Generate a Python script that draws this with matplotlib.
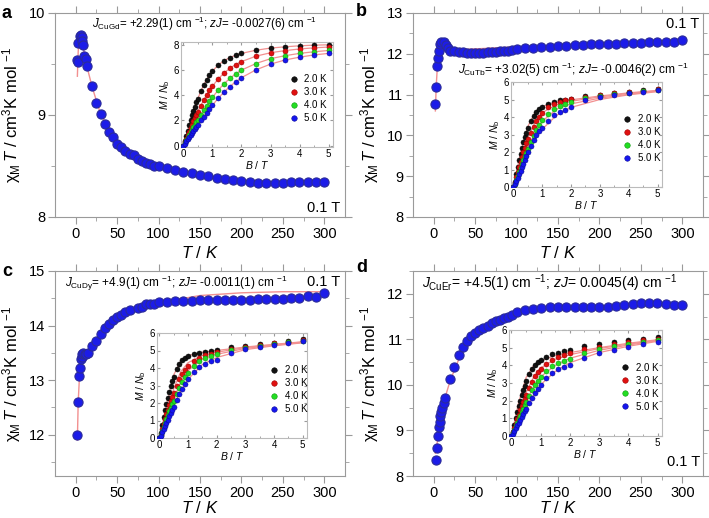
import matplotlib
matplotlib.use('Agg')
import matplotlib.pyplot as plt

plt.rcParams['font.family'] = ['Liberation Sans', 'DejaVu Sans']
plt.rcParams['mathtext.fontset'] = 'custom'
plt.rcParams['mathtext.rm'] = 'Liberation Sans'
plt.rcParams['mathtext.it'] = 'Liberation Sans:italic'
plt.rcParams['mathtext.bf'] = 'Liberation Sans:bold'

# ---------------- chi*T vs T data ----------------
T_a = [2, 2.5, 3, 5, 6, 7, 8, 9, 10, 12, 14, 20, 25, 30, 35, 40, 45, 50, 55, 60, 65, 70, 75, 80,
       85, 90, 95, 100, 110, 120, 130, 140, 150, 160, 170, 180, 190, 200, 210, 220, 230, 240,
       250, 260, 270, 280, 290, 300]
chiT_a = [9.54, 9.52, 9.71, 9.77, 9.78, 9.76, 9.73, 9.69, 9.58, 9.55, 9.48, 9.28, 9.12, 9.01,
          8.91, 8.83, 8.78, 8.72, 8.69, 8.65, 8.62, 8.61, 8.57, 8.55, 8.53, 8.52, 8.50, 8.50,
          8.48, 8.46, 8.44, 8.43, 8.41, 8.40, 8.38, 8.37, 8.36, 8.35, 8.34, 8.33, 8.33, 8.33,
          8.33, 8.34, 8.34, 8.34, 8.34, 8.34]
Tfit_a = [2, 3, 4, 6, 8, 10, 14, 20, 30, 50, 75, 100, 150, 200, 250, 300]
fit_a = [9.38, 9.62, 9.74, 9.78, 9.72, 9.62, 9.46, 9.27, 9.01, 8.72, 8.57, 8.49, 8.41, 8.36,
         8.34, 8.34]

T_b = [2, 3, 4, 5, 6, 7, 9, 12, 15, 17, 20, 25, 30, 35, 40, 45, 50, 55, 60, 65, 70, 75, 80,
       85, 90, 95, 100, 110, 120, 130, 140, 150, 160, 170, 180, 190, 200, 210, 220, 230, 240,
       250, 260, 270, 280, 290, 300]
chiT_b = [10.78, 11.19, 11.69, 11.90, 12.08, 12.25, 12.29, 12.29, 12.22, 12.14, 12.07, 12.06,
          12.05, 12.04, 12.03, 12.03, 12.02, 12.03, 12.03, 12.04, 12.04, 12.05, 12.06, 12.07,
          12.08, 12.09, 12.12, 12.14, 12.15, 12.16, 12.17, 12.19, 12.20, 12.21, 12.22, 12.23,
          12.24, 12.24, 12.25, 12.26, 12.26, 12.27, 12.28, 12.29, 12.30, 12.29, 12.33]
Tfit_b = [2, 3, 5, 8, 10, 15, 20, 30, 50, 100, 150, 200, 250, 300]
fit_b = [10.6, 11.2, 11.9, 12.15, 12.18, 12.15, 12.12, 12.10, 12.12, 12.17, 12.20, 12.23,
         12.25, 12.26]

T_c = [2, 3, 4, 5, 6, 7, 8, 9, 11, 13, 15, 20, 25, 30, 35, 40, 45, 50, 55, 60, 65, 75, 80, 85,
       90, 95, 100, 110, 120, 130, 140, 150, 160, 170, 180, 190, 200, 210, 220, 230, 240, 250,
       260, 270, 280, 290, 300]
chiT_c = [12.0, 12.59, 13.07, 13.22, 13.38, 13.43, 13.47, 13.50, 13.47, 13.47, 13.50, 13.62,
          13.71, 13.85, 13.95, 14.02, 14.10, 14.15, 14.20, 14.25, 14.28, 14.33, 14.34, 14.39,
          14.39, 14.39, 14.43, 14.44, 14.45, 14.45, 14.45, 14.46, 14.46, 14.46, 14.47, 14.47,
          14.47, 14.47, 14.48, 14.48, 14.49, 14.49, 14.51, 14.51, 14.54, 14.52, 14.60]
Tfit_c = [2, 3, 5, 8, 10, 15, 20, 30, 40, 50, 60, 75, 100, 150, 200, 250, 300]
fit_c = [11.9, 12.6, 13.2, 13.35, 13.42, 13.52, 13.62, 13.80, 13.95, 14.08, 14.18, 14.30,
         14.42, 14.55, 14.60, 14.62, 14.62]

T_d = [3, 4, 5, 6, 7, 8, 9, 10, 12, 14, 20, 25, 30, 35, 40, 45, 50, 55, 60, 65, 70, 75, 80, 85,
       90, 95, 100, 110, 120, 130, 140, 150, 160, 170, 180, 190, 200, 210, 220, 230, 240, 250,
       260, 270, 280, 290, 300]
chiT_d = [8.35, 8.62, 8.88, 9.07, 9.18, 9.32, 9.41, 9.50, 9.61, 9.72, 10.12, 10.40, 10.65,
          10.84, 10.96, 11.07, 11.14, 11.21, 11.25, 11.30, 11.36, 11.40, 11.43, 11.47, 11.50,
          11.54, 11.60, 11.64, 11.67, 11.69, 11.70, 11.71, 11.71, 11.71, 11.71, 11.71, 11.71,
          11.72, 11.74, 11.75, 11.78, 11.80, 11.80, 11.80, 11.78, 11.75, 11.76]
Tfit_d = [2, 4, 6, 10, 15, 20, 30, 40, 50, 60, 75, 100, 150, 200, 250, 300]
fit_d = [8.5, 8.7, 9.0, 9.45, 9.8, 10.1, 10.55, 10.85, 11.05, 11.2, 11.38, 11.58, 11.70, 11.73,
         11.76, 11.77]

# ---------------- M vs B data (inset) ----------------
B = [0, 0.05, 0.1, 0.15, 0.2, 0.25, 0.3, 0.35, 0.4, 0.45, 0.5, 0.6, 0.7, 0.8, 0.9, 1.0,
     1.2, 1.4, 1.6, 1.8, 2.0, 2.5, 3.0, 3.5, 4.0, 4.5, 5.0]
B_fit = [0, 0.25, 0.5, 0.75, 1.0, 1.5, 2.0, 3.0, 4.0, 5.0]
temps = ['2.0 K', '3.0 K', '4.0 K', '5.0 K']

M_gd = [
    [0, 0.4, 0.8, 1.2, 1.6, 2.0, 2.4, 2.75, 3.1, 3.42, 3.72, 4.3, 4.8, 5.22, 5.58, 5.9,
     6.38, 6.72, 6.97, 7.15, 7.3, 7.55, 7.72, 7.82, 7.9, 7.95, 7.98],
    [0, 0.28, 0.56, 0.84, 1.12, 1.4, 1.67, 1.94, 2.2, 2.45, 2.7, 3.17, 3.6, 4.0, 4.37, 4.7,
     5.28, 5.75, 6.12, 6.42, 6.65, 7.08, 7.35, 7.52, 7.65, 7.74, 7.8],
    [0, 0.21, 0.42, 0.63, 0.84, 1.05, 1.26, 1.46, 1.66, 1.86, 2.06, 2.45, 2.82, 3.17, 3.5, 3.82,
     4.4, 4.9, 5.32, 5.68, 5.98, 6.5, 6.88, 7.12, 7.3, 7.43, 7.53],
    [0, 0.17, 0.34, 0.51, 0.68, 0.85, 1.02, 1.18, 1.35, 1.51, 1.67, 2.0, 2.31, 2.62, 2.92, 3.2,
     3.75, 4.25, 4.68, 5.05, 5.38, 6.0, 6.45, 6.78, 7.0, 7.18, 7.3],
]
M_tb = [
    [0, 0.3, 0.75, 1.15, 1.55, 1.9, 2.25, 2.55, 2.85, 3.1, 3.35, 3.75, 4.05, 4.3, 4.45, 4.58,
     4.75, 4.85, 4.95, 5.0, 5.05, 5.18, 5.28, 5.37, 5.45, 5.52, 5.6],
    [0, 0.25, 0.55, 0.85, 1.15, 1.45, 1.72, 2.0, 2.25, 2.5, 2.72, 3.1, 3.45, 3.75, 4.02, 4.25,
     4.55, 4.75, 4.88, 4.95, 5.02, 5.15, 5.25, 5.35, 5.43, 5.5, 5.58],
    [0, 0.2, 0.42, 0.65, 0.88, 1.1, 1.32, 1.55, 1.75, 1.95, 2.15, 2.55, 2.9, 3.25, 3.55, 3.85,
     4.2, 4.45, 4.62, 4.75, 4.88, 5.08, 5.2, 5.32, 5.4, 5.48, 5.56],
    [0, 0.15, 0.33, 0.52, 0.72, 0.92, 1.12, 1.33, 1.55, 1.77, 2.0, 2.35, 2.68, 2.95, 3.2, 3.4,
     3.78, 4.1, 4.3, 4.42, 4.55, 4.95, 5.12, 5.25, 5.35, 5.45, 5.55],
]
Mfit_tb = [
    [0, 1.95, 3.45, 4.25, 4.6, 4.85, 4.98, 5.2, 5.38, 5.52],
    [0, 1.5, 2.8, 3.7, 4.25, 4.7, 4.9, 5.15, 5.35, 5.5],
    [0, 1.15, 2.25, 3.1, 3.75, 4.45, 4.75, 5.08, 5.3, 5.48],
    [0, 0.95, 1.9, 2.7, 3.3, 4.1, 4.55, 5.0, 5.27, 5.45],
]
M_dy = [
    [0, 0.3, 0.75, 1.2, 1.6, 1.95, 2.3, 2.65, 2.95, 3.25, 3.5, 3.95, 4.25, 4.45, 4.58, 4.66,
     4.78, 4.86, 4.93, 4.99, 5.05, 5.18, 5.28, 5.37, 5.45, 5.56, 5.64],
    [0, 0.2, 0.5, 0.8, 1.1, 1.35, 1.62, 1.88, 2.12, 2.36, 2.58, 3.0, 3.35, 3.65, 3.9, 4.1,
     4.4, 4.6, 4.73, 4.82, 4.9, 5.1, 5.22, 5.32, 5.42, 5.5, 5.6],
    [0, 0.17, 0.4, 0.62, 0.85, 1.07, 1.3, 1.52, 1.73, 1.94, 2.14, 2.52, 2.88, 3.2, 3.48, 3.72,
     4.1, 4.38, 4.56, 4.68, 4.78, 5.02, 5.17, 5.28, 5.38, 5.47, 5.55],
    [0, 0.14, 0.32, 0.5, 0.68, 0.86, 1.05, 1.24, 1.43, 1.62, 1.8, 2.15, 2.5, 2.82, 3.1, 3.35,
     3.78, 4.05, 4.25, 4.38, 4.48, 4.88, 5.08, 5.22, 5.33, 5.43, 5.52],
]
Mfit_dy = [
    [0, 1.8, 3.6, 4.4, 4.7, 4.9, 5.0, 5.2, 5.35, 5.5],
    [0, 1.4, 2.8, 3.8, 4.3, 4.72, 4.9, 5.17, 5.33, 5.48],
    [0, 1.1, 2.25, 3.2, 3.85, 4.5, 4.78, 5.12, 5.3, 5.46],
    [0, 0.9, 1.85, 2.7, 3.35, 4.2, 4.6, 5.05, 5.27, 5.44],
]
M_er = [
    [0, 0.25, 0.6, 1.0, 1.35, 1.68, 2.0, 2.3, 2.6, 2.85, 3.1, 3.5, 3.8, 4.02, 4.18, 4.32,
     4.48, 4.62, 4.72, 4.8, 4.88, 5.07, 5.2, 5.31, 5.41, 5.49, 5.58],
    [0, 0.2, 0.45, 0.7, 0.95, 1.2, 1.45, 1.68, 1.9, 2.12, 2.33, 2.72, 3.07, 3.38, 3.6, 3.8,
     4.05, 4.28, 4.45, 4.57, 4.67, 4.9, 5.06, 5.2, 5.32, 5.42, 5.5],
    [0, 0.16, 0.36, 0.56, 0.76, 0.96, 1.16, 1.36, 1.55, 1.74, 1.92, 2.27, 2.6, 2.9, 3.12, 3.32,
     3.68, 3.95, 4.12, 4.26, 4.38, 4.7, 4.9, 5.07, 5.2, 5.33, 5.43],
    [0, 0.13, 0.28, 0.44, 0.6, 0.76, 0.92, 1.08, 1.24, 1.4, 1.55, 1.85, 2.15, 2.45, 2.68, 2.9,
     3.3, 3.58, 3.78, 3.92, 4.02, 4.42, 4.68, 4.88, 5.05, 5.2, 5.33],
]
Mfit_er = [
    [0, 1.9, 3.3, 3.95, 4.25, 4.55, 4.72, 5.0, 5.25, 5.45],
    [0, 1.3, 2.45, 3.3, 3.85, 4.35, 4.6, 4.95, 5.2, 5.43],
    [0, 1.0, 1.95, 2.75, 3.35, 4.0, 4.4, 4.85, 5.15, 5.4],
    [0, 0.8, 1.6, 2.3, 2.9, 3.65, 4.15, 4.72, 5.08, 5.36],
]

dot_face = ['#111111', '#e01010', '#22dd22', '#1515ee']
dot_edge = ['#000000', '#a00000', '#119911', '#0a0a99']
fit_col = '#f29090'
spine_col = '#9a9a9a'

W, H = 709, 518
fig = plt.figure(figsize=(7.09, 5.18), dpi=100)


def px_axes(l, r, t, b):
    return fig.add_axes([l / W, 1 - b / H, (r - l) / W, (b - t) / H])


def ftxt(x, y, s, **kw):
    fig.text(x / W, 1 - y / H, s, **kw)


def main_panel(box, T, chiT, Tfit, fit, ylim, yticks, yminor, xlab_y):
    ax = px_axes(*box)
    ax.plot(Tfit, fit, '-', color=fit_col, lw=1, zorder=2)
    ax.plot(T, chiT, 'o', ms=6.6, mfc='#1c1ce8', mec='#2b2b9a', mew=0.8, zorder=3)
    ax.set_xlim(-25, 325)
    ax.set_ylim(*ylim)
    ax.set_xticks(range(0, 301, 50))
    ax.set_xticks(range(25, 300, 50), minor=True)
    ax.set_yticks(yticks)
    ax.set_yticks(yminor, minor=True)
    ax.tick_params(which='both', direction='out', top=True, right=True,
                   color=spine_col, labelsize=10.5, pad=2)
    ax.tick_params(which='major', length=5)
    ax.tick_params(which='minor', length=3)
    for s in ax.spines.values():
        s.set_color(spine_col)
    ax.set_xlabel('$T$ / $K$', fontsize=12)
    ax.set_ylabel('χ$_{\\rm M}$$\\,T$ / cm$^3$K mol $^{-1}$', fontsize=12)
    ax.xaxis.set_label_coords(0.5, xlab_y)
    ax.yaxis.set_label_coords(-0.112, 0.5)
    return ax


def inset(box, Mdata, Mfit, ylim, yticks, leg_x):
    ax = px_axes(*box)
    for i in range(4):
        if Mfit is None:
            ax.plot(B, Mdata[i], '-', color=fit_col, lw=0.9, zorder=1)
        else:
            ax.plot(B_fit, Mfit[i], '-', color=fit_col, lw=0.9, zorder=1)
    for i in range(4):
        ax.plot(B, Mdata[i], 'o', ms=3.6, mfc=dot_face[i], mec=dot_edge[i], mew=0.4,
                label=temps[i], zorder=3)
    ax.set_xlim(-0.08, 5.15)
    ax.set_ylim(*ylim)
    ax.set_xticks(range(0, 6))
    ax.set_xticks([0.5, 1.5, 2.5, 3.5, 4.5], minor=True)
    ax.set_yticks(yticks)
    ax.tick_params(which='both', direction='in', top=True, right=True,
                   color=spine_col, labelsize=7, pad=1.5, length=2)
    ax.tick_params(which='minor', length=1.5)
    for s in ax.spines.values():
        s.set_color('#bbbbbb')
        s.set_linewidth(0.8)
    ax.set_xlabel('$B$ / $T$', fontsize=7.5, labelpad=0)
    ax.set_ylabel('$M$ / $N_{\\rm b}$', fontsize=7.5, labelpad=1)
    ax.legend(loc='center left', bbox_to_anchor=(leg_x, 0.46), frameon=False,
              fontsize=7, handlelength=0.6, handletextpad=0.8, labelspacing=0.3,
              borderpad=0, markerscale=1.1)
    return ax


# panel a
main_panel((55, 345, 13, 217), T_a, chiT_a, Tfit_a, fit_a, (8, 10), [8, 9, 10], [8.5, 9.5],
           -0.135)
inset((181, 333, 42, 147), M_gd, None, (-0.1, 8.2), [0, 2, 4, 6, 8], 0.69)
ftxt(92, 24, r'$J_{\rm CuGd}$= +2.29(1) cm $^{-1}$; $zJ$= -0.0027(6) cm $^{-1}$', fontsize=8.3,
     va='center')
ftxt(340, 208, '0.1 T', fontsize=10.5, ha='right', va='center')
ftxt(1, 13, 'a', fontsize=13, fontweight='bold', va='center')

# panel b
main_panel((413, 703, 13, 217), T_b, chiT_b, Tfit_b, fit_b, (8, 13), [8, 9, 10, 11, 12, 13],
           [8.5, 9.5, 10.5, 11.5, 12.5], -0.135)
inset((511, 662, 82, 187), M_tb, Mfit_tb, (0, 6), [0, 1, 2, 3, 4, 5, 6], 0.72)
ftxt(458, 70, r'$J_{\rm CuTb}$= +3.02(5) cm $^{-1}$; $zJ$= -0.0046(2) cm $^{-1}$', fontsize=8.6,
     va='center')
ftxt(699, 24, '0.1 T', fontsize=10.5, ha='right', va='center')
ftxt(356, 11, 'b', fontsize=13, fontweight='bold', va='center')

# panel c
main_panel((55, 345, 271, 476), T_c, chiT_c, Tfit_c, fit_c, (11.24, 15), [12, 13, 14, 15],
           [11.5, 12.5, 13.5, 14.5], -0.115)
inset((157, 307, 333, 438), M_dy, Mfit_dy, (0, 6), [0, 1, 2, 3, 4, 5, 6], 0.73)
ftxt(65, 283, r'$J_{\rm CuDy}$= +4.9(1) cm $^{-1}$; $zJ$= -0.0011(1) cm $^{-1}$', fontsize=8.5,
     va='center')
ftxt(340, 282, '0.1 T', fontsize=10.5, ha='right', va='center')
ftxt(2, 271, 'c', fontsize=13, fontweight='bold', va='center')

# panel d
main_panel((413, 703, 271, 476), T_d, chiT_d, Tfit_d, fit_d, (8, 12.47), [8, 9, 10, 11, 12],
           [8.5, 9.5, 10.5, 11.5, 12.5], -0.115)
inset((509, 662, 330, 436), M_er, Mfit_er, (0, 6), [0, 1, 2, 3, 4, 5, 6], 0.71)
ftxt(422, 283, r'$J_{\rm CuEr}$= +4.5(1) cm $^{-1}$; $zJ$= 0.0045(4) cm $^{-1}$', fontsize=10,
     va='center')
ftxt(700, 462, '0.1 T', fontsize=10.5, ha='right', va='center')
ftxt(356, 268, 'd', fontsize=13, fontweight='bold', va='center')

fig.savefig('out.png', dpi=100)
